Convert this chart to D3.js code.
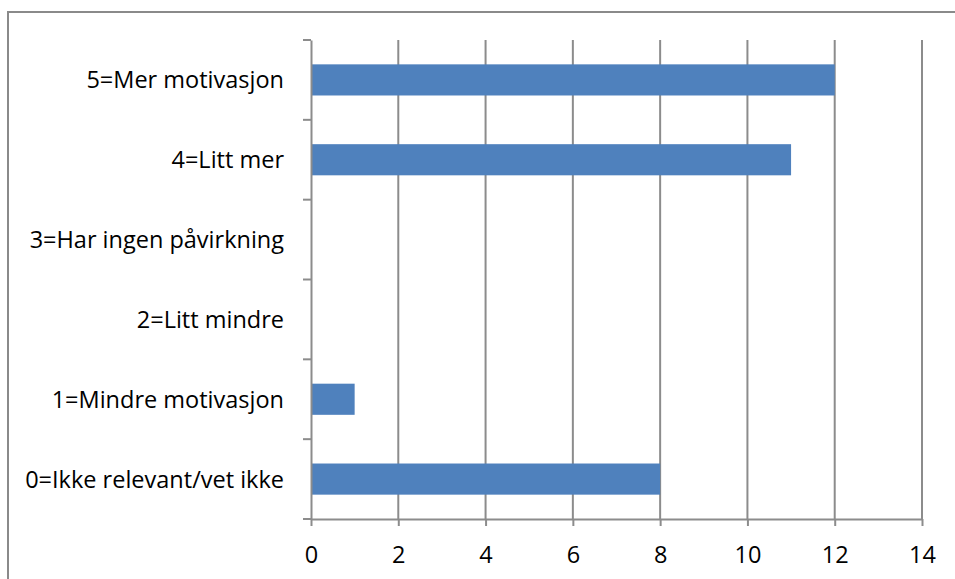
<!DOCTYPE html>
<html>
<head>
<meta charset="utf-8">
<script src="https://cdn.jsdelivr.net/npm/d3@7"></script>
<style>
  html, body { margin: 0; padding: 0; background: #fff; }
  svg { display: block; }
  text { font-family: "Open Sans", "Noto Sans", sans-serif; fill: #000; }
</style>
</head>
<body>
<svg id="chart" width="955" height="579"></svg>
<script>
// Answer categories, bottom to top as drawn
const categories = [
  "0=Ikke relevant/vet ikke",
  "1=Mindre motivasjon",
  "2=Litt mindre",
  "3=Har ingen påvirkning",
  "4=Litt mer",
  "5=Mer motivasjon"
];
const counts = [8, 1, 0, 0, 11, 12];
const xTicks = [0, 2, 4, 6, 8, 10, 12, 14];

const svg = d3.select("#chart");
const plot = { left: 311, right: 922, top: 40, bottom: 519 };

// Outer chart frame (runs past the right and bottom edges of the view)
svg.append("rect")
  .attr("x", 8).attr("y", 12)
  .attr("width", 970).attr("height", 600)
  .attr("fill", "none").attr("stroke", "#8a8a8a").attr("stroke-width", 2);

const x = d3.scaleLinear().domain([0, 14]).range([plot.left, plot.right]);
const y = d3.scaleBand()
  .domain(categories.slice().reverse())
  .range([plot.top, plot.bottom]);

const grid = "#8c8c8c";

// Vertical gridlines
svg.append("g")
  .selectAll("line")
  .data(xTicks.slice(1))
  .join("line")
  .attr("x1", d => x(d)).attr("x2", d => x(d))
  .attr("y1", plot.top).attr("y2", plot.bottom)
  .attr("stroke", grid).attr("stroke-width", 2);

// Bars
const barH = y.bandwidth() * 0.39;
svg.append("g")
  .selectAll("rect")
  .data(categories.map((c, i) => ({ c, v: counts[i] })).filter(d => d.v > 0))
  .join("rect")
  .attr("x", x(0))
  .attr("y", d => y(d.c) + (y.bandwidth() - barH) / 2)
  .attr("width", d => x(d.v) - x(0))
  .attr("height", barH)
  .attr("fill", "#4f81bd");

// Category axis (left)
const yAxis = svg.append("g")
  .attr("transform", `translate(${plot.left},0)`)
  .call(d3.axisLeft(y).tickSize(0).tickPadding(27));
yAxis.select(".domain").attr("stroke", grid).attr("stroke-width", 2);
yAxis.selectAll("text").style("font-size", "23.5px").attr("dy", "0.36em");
// Tick marks at category boundaries
svg.append("g")
  .selectAll("line")
  .data(d3.range(categories.length + 1))
  .join("line")
  .attr("x1", plot.left - 8).attr("x2", plot.left)
  .attr("y1", i => plot.top + i * y.step()).attr("y2", i => plot.top + i * y.step())
  .attr("stroke", grid).attr("stroke-width", 2);

// Value axis (bottom)
const xAxis = svg.append("g")
  .attr("transform", `translate(0,${plot.bottom})`)
  .call(d3.axisBottom(x).tickValues(xTicks).tickSize(7).tickPadding(20).tickSizeOuter(0));
xAxis.select(".domain").attr("stroke", grid).attr("stroke-width", 2);
xAxis.selectAll(".tick line").attr("stroke", grid).attr("stroke-width", 2);
xAxis.selectAll("text").style("font-size", "23.5px");
</script>
</body>
</html>
